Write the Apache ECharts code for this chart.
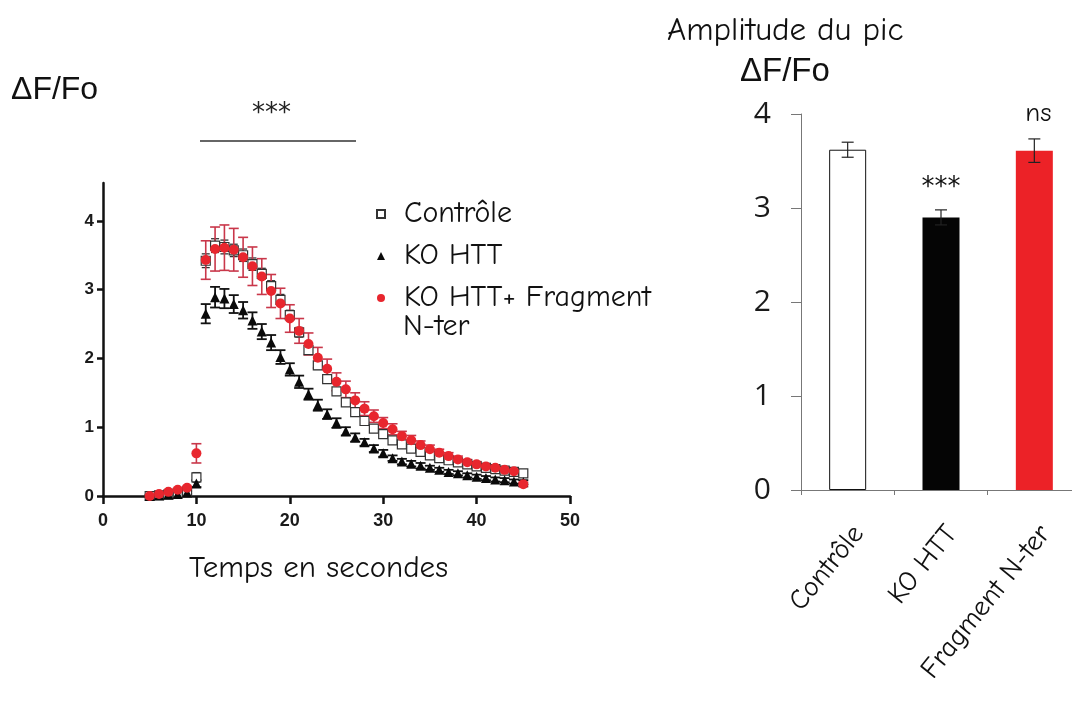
<!DOCTYPE html>
<html><head><meta charset="utf-8">
<script src="https://cdn.jsdelivr.net/npm/echarts@6/dist/echarts.min.js"></script>
<style>html,body{margin:0;padding:0;background:#fff}#c{width:1072px;height:711px}</style>
</head><body><div id="c"></div>
<script>
// ---------- DATA ----------
const times = [5,6,7,8,9,10,11,12,13,14,15,16,17,18,19,20,21,22,23,24,25,26,27,28,29,30,31,32,33,34,35,36,37,38,39,40,41,42,43,44,45];
const controleMean = [0.00,0.01,0.02,0.04,0.06,0.27,3.42,3.64,3.62,3.57,3.50,3.37,3.23,3.05,2.85,2.63,2.38,2.12,1.90,1.70,1.52,1.36,1.22,1.09,0.98,0.90,0.81,0.75,0.69,0.64,0.59,0.55,0.52,0.49,0.46,0.43,0.41,0.39,0.37,0.35,0.33];
const controleErr  = [0.01,0.01,0.01,0.01,0.02,0.07,0.10,0.10,0.10,0.09,0.09,0.09,0.08,0.08,0.08,0.07,0.07,0.06,0.06,0.06,0.05,0.05,0.05,0.04,0.04,0.04,0.04,0.03,0.03,0.03,0.03,0.03,0.03,0.03,0.02,0.02,0.02,0.02,0.02,0.02,0.02];
const koMean = [0.00,0.01,0.02,0.03,0.05,0.18,2.65,2.89,2.87,2.79,2.70,2.55,2.39,2.23,2.02,1.84,1.66,1.48,1.32,1.19,1.06,0.94,0.85,0.78,0.69,0.62,0.55,0.50,0.47,0.44,0.41,0.38,0.35,0.33,0.30,0.28,0.26,0.24,0.23,0.21,0.20];
const koErr  = [0.01,0.01,0.01,0.01,0.02,0.05,0.14,0.15,0.14,0.13,0.12,0.12,0.11,0.11,0.10,0.09,0.09,0.08,0.08,0.07,0.07,0.06,0.06,0.05,0.05,0.05,0.04,0.04,0.04,0.04,0.03,0.03,0.03,0.03,0.03,0.03,0.03,0.03,0.03,0.03,0.03];
const fragMean = [0.00,0.03,0.06,0.09,0.12,0.62,3.43,3.59,3.61,3.58,3.47,3.34,3.19,2.98,2.80,2.58,2.40,2.21,2.01,1.85,1.66,1.55,1.39,1.27,1.16,1.06,0.97,0.87,0.81,0.74,0.68,0.63,0.58,0.53,0.49,0.46,0.43,0.41,0.38,0.36,0.17];
const fragErr  = [0.02,0.02,0.02,0.02,0.02,0.14,0.28,0.32,0.33,0.31,0.29,0.28,0.26,0.24,0.22,0.20,0.18,0.16,0.15,0.14,0.13,0.12,0.11,0.10,0.09,0.08,0.08,0.07,0.07,0.06,0.06,0.05,0.05,0.05,0.04,0.04,0.04,0.04,0.04,0.03,0.03];
const seriesNames = ['Contrôle','KO HTT','KO HTT+ Fragment N-ter'];
const xTicksLeft = [0,10,20,30,40,50];
const yTicksLeft = [0,1,2,3,4];

const barCategories = ['Contrôle','KO HTT','Fragment N-ter'];
const barMeans = [3.62, 2.90, 3.61];
const barErrs = [0.08, 0.08, 0.125];
const yTicksRight = [0,1,2,3,4];
const barMarks = ['', '***', 'ns'];

// ---------- CHART ----------
const comic = '"Comic Sans MS","Comic Neue",cursive';
const sans = '"Liberation Sans",Arial,sans-serif';
const dejavu = '"DejaVu Sans",sans-serif';

function errorBarRender(color, capHalf, lw) {
  return function (params, api) {
    const x = api.value(0);
    const top = api.coord([x, api.value(2)]);
    const bot = api.coord([x, api.value(1)]);
    const st = {stroke: color, lineWidth: lw};
    return {type: 'group', children: [
      {type: 'line', shape: {x1: top[0], y1: top[1], x2: bot[0], y2: bot[1]}, style: st},
      {type: 'line', shape: {x1: top[0]-capHalf, y1: top[1], x2: top[0]+capHalf, y2: top[1]}, style: st},
      {type: 'line', shape: {x1: bot[0]-capHalf, y1: bot[1], x2: bot[0]+capHalf, y2: bot[1]}, style: st}
    ]};
  };
}
const errData = (m, e) => times.map((t, i) => [t, +(m[i]-e[i]).toFixed(3), +(m[i]+e[i]).toFixed(3)]);
const ptData = (m) => times.map((t, i) => [t, m[i]]);

const chart = echarts.init(document.getElementById('c'), null, {renderer: 'canvas'});
const barStyles = [
  {color: '#ffffff', borderColor: '#111', borderWidth: 1},
  {color: '#050505'},
  {color: '#ec2227'}
];
const barLabelStyles = [
  {},
  {fontFamily: dejavu, fontSize: 26},
  {fontFamily: comic, fontSize: 27}
];

const option = {
  backgroundColor: '#ffffff',
  animation: false,
  grid: [
    {left: 103, right: 502, top: 183, bottom: 215, outerBoundsMode: 'none', containLabel: false},
    {left: 801, right: -9, top: 114, bottom: 221, outerBoundsMode: 'none', containLabel: false}
  ],
  xAxis: [
    {gridIndex: 0, type: 'value', min: 0, max: 50, interval: 10,
     axisLine: {show: true, onZero: false, lineStyle: {color: '#111', width: 2.5}},
     axisTick: {show: true, length: 8, lineStyle: {color: '#111', width: 2.5}},
     axisLabel: {margin: 16, fontSize: 18, fontWeight: 'bold', color: '#1a1a1a', fontFamily: sans},
     splitLine: {show: false},
     name: 'Temps en secondes', nameLocation: 'middle', nameGap: 57,
     nameTextStyle: {fontSize: 31, color: '#111', fontFamily: comic, padding: [0, 36, 0, 0]}},
    {gridIndex: 1, type: 'category', data: barCategories,
     axisLine: {show: true, lineStyle: {color: '#777', width: 1}},
     axisTick: {show: true, length: 5, lineStyle: {color: '#777'}},
     axisLabel: {rotate: 51, margin: 30, fontSize: 28, color: '#111', fontFamily: comic, interval: 0, verticalAlign: 'top'}}
  ],
  yAxis: [
    {gridIndex: 0, type: 'value', min: 0, max: 4.55,
     axisLine: {show: true, onZero: false, lineStyle: {color: '#111', width: 2.5}},
     axisTick: {show: true, length: 6, lineStyle: {color: '#111', width: 2.5}, customValues: yTicksLeft},
     axisLabel: {margin: 9, fontSize: 17, fontWeight: 'bold', color: '#1a1a1a', fontFamily: sans, customValues: yTicksLeft},
     splitLine: {show: false}},
    {gridIndex: 1, type: 'value', min: 0, max: 4, interval: 1,
     axisLine: {show: true, lineStyle: {color: '#777', width: 1}},
     axisTick: {show: true, length: 10, lineStyle: {color: '#777'}},
     axisLabel: {margin: 30, fontSize: 30, color: '#1a1a1a', fontFamily: '"Open Sans",sans-serif'},
     splitLine: {show: false}}
  ],
  legend: {
    data: seriesNames, orient: 'vertical', left: 371, top: 194,
    itemWidth: 8, itemHeight: 8, itemGap: 12,
    textStyle: {fontSize: 30, lineHeight: 30, color: '#111', fontFamily: comic, padding: [0, 0, 0, 14]},
    formatter: (n) => n === seriesNames[2] ? 'KO HTT+ Fragment' : n,
    selectedMode: false
  },
  graphic: [
    {type: 'text', left: 403, top: 312, style: {text: 'N-ter', fontSize: 30, fill: '#111', fontFamily: comic}},
    {type: 'text', left: 11, top: 74, style: {text: 'ΔF/Fo', fontSize: 32, fill: '#111', fontFamily: sans}},
    {type: 'text', left: 252, top: 101, style: {text: '***', fontSize: 26, fill: '#222', fontFamily: dejavu}},
    {type: 'line', shape: {x1: 200, y1: 141, x2: 356, y2: 141}, style: {stroke: '#333', lineWidth: 1.5}},
    {type: 'text', left: 667, top: 14, style: {text: 'Amplitude du pic', fontSize: 33, fill: '#111', fontFamily: comic}},
    {type: 'text', left: 740, top: 55, style: {text: 'ΔF/Fo', fontSize: 33, fill: '#111', fontFamily: sans}}
  ],
  series: [
    {type: 'custom', name: 'errC', xAxisIndex: 0, yAxisIndex: 0, data: errData(controleMean, controleErr),
     encode: {x: 0, y: [1, 2]}, renderItem: errorBarRender('#333', 4, 1.3), silent: true},
    {type: 'scatter', name: seriesNames[0], xAxisIndex: 0, yAxisIndex: 0, data: ptData(controleMean),
     symbol: 'rect', symbolSize: 9, itemStyle: {color: '#ffffff', borderColor: '#333', borderWidth: 1.2, opacity: 1}},
    {type: 'custom', name: 'errK', xAxisIndex: 0, yAxisIndex: 0, data: errData(koMean, koErr),
     encode: {x: 0, y: [1, 2]}, renderItem: errorBarRender('#111', 5, 1.8), silent: true},
    {type: 'scatter', name: seriesNames[1], xAxisIndex: 0, yAxisIndex: 0, data: ptData(koMean),
     symbol: 'triangle', symbolSize: 10, itemStyle: {color: '#0a0a0a', opacity: 1}},
    {type: 'custom', name: 'errF', xAxisIndex: 0, yAxisIndex: 0, data: errData(fragMean, fragErr),
     encode: {x: 0, y: [1, 2]}, renderItem: errorBarRender('#c9374a', 5, 1.6), silent: true},
    {type: 'scatter', name: seriesNames[2], xAxisIndex: 0, yAxisIndex: 0, data: ptData(fragMean),
     symbol: 'circle', symbolSize: 10, itemStyle: {color: '#e8262e', opacity: 1}},

    {type: 'bar', name: 'bars', xAxisIndex: 1, yAxisIndex: 1, barWidth: 37,
     data: barMeans.map((v, i) => ({value: v, itemStyle: barStyles[i], label: barLabelStyles[i]})),
     label: {show: true, position: 'top', distance: 0,
       formatter: (p) => barMarks[p.dataIndex],
       fontSize: 26, color: '#111', fontFamily: comic},
     labelLayout: (p) => {
       const i = p.dataIndex;
       if (i === 1) return {dy: -16};
       if (i === 2) return {dy: -24, dx: 4};
       return {};
     }},
    {type: 'custom', name: 'errBars', xAxisIndex: 1, yAxisIndex: 1,
     data: barMeans.map((v, i) => [i, +(v - barErrs[i]).toFixed(3), +(v + barErrs[i]).toFixed(3)]),
     encode: {x: 0, y: [1, 2]}, renderItem: errorBarRender('#222', 6, 1.2), silent: true, z: 5}
  ]
};
chart.setOption(option);
</script></body></html>
